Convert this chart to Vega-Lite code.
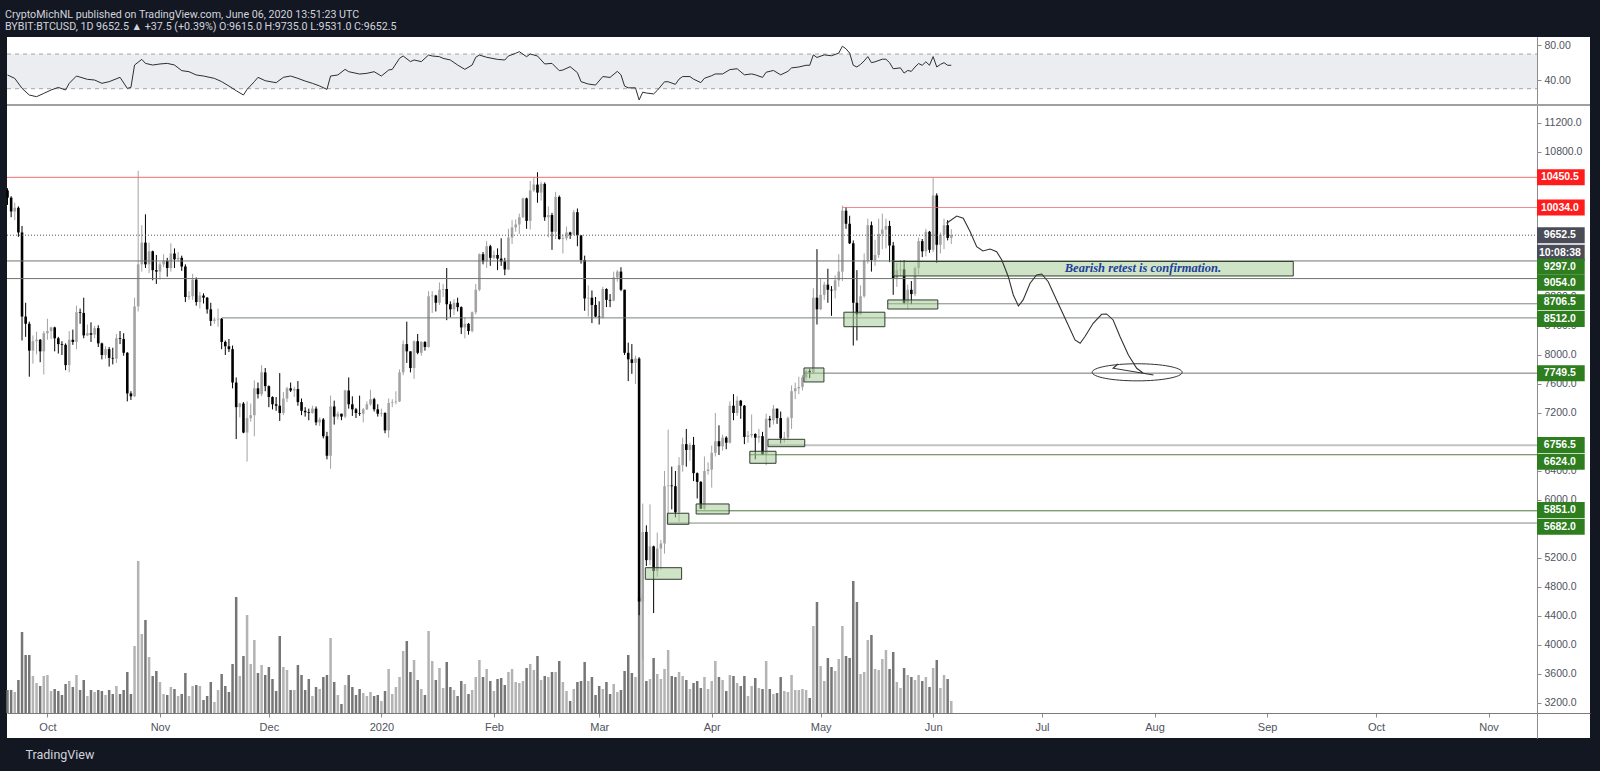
{
"$schema":"https://vega.github.io/schema/vega-lite/v6.json",
"autosize":{"type":"none"},
"background":"#131722",
"padding":{"left":7,"right":10,"top":37,"bottom":33},
"width":1583,"height":701,
"title":{"text":"CryptoMichNL published on TradingView.com, June 06, 2020 13:51:23 UTC","subtitle":"BYBIT:BTCUSD, 1D  9652.5 ▲ +37.5 (+0.39%) O:9615.0 H:9735.0 L:9531.0 C:9652.5","anchor":"start","frame":"group","dx":-2,"color":"#d1d4dc","subtitleColor":"#d1d4dc","font":"Roboto","subtitleFont":"Roboto","fontSize":10.7,"subtitleFontSize":10.7,"fontWeight":"normal","subtitleFontWeight":"normal","offset":4,"subtitlePadding":2},
"config":{"view":{"stroke":null,"fill":"#ffffff"},"axis":{"grid":false,"labelFont":"Liberation Sans","labelFontSize":10.5,"labelColor":"#50535e","domainColor":"#8c8c8c","tickColor":"#8c8c8c","labelOverlap":false,"labelFlush":false}},
"datasets":{
"candles":[
{"d":"2019-09-20","o":10270,"h":10300,"l":10070,"c":10170,"v":23},
{"d":"2019-09-21","o":10170,"h":10190,"l":9900,"c":9980,"v":23},
{"d":"2019-09-22","o":9980,"h":10100,"l":9860,"c":10030,"v":21},
{"d":"2019-09-23","o":10030,"h":10050,"l":9630,"c":9690,"v":33},
{"d":"2019-09-24","o":9690,"h":9780,"l":8200,"c":8530,"v":81},
{"d":"2019-09-25","o":8530,"h":8720,"l":8250,"c":8430,"v":58},
{"d":"2019-09-26","o":8430,"h":8460,"l":7700,"c":8060,"v":58},
{"d":"2019-09-27","o":8060,"h":8270,"l":7880,"c":8190,"v":37},
{"d":"2019-09-28","o":8190,"h":8320,"l":8010,"c":8210,"v":30},
{"d":"2019-09-29","o":8210,"h":8220,"l":7900,"c":8050,"v":27},
{"d":"2019-09-30","o":8050,"h":8330,"l":7730,"c":8300,"v":37},
{"d":"2019-10-01","o":8300,"h":8500,"l":8210,"c":8330,"v":38},
{"d":"2019-10-02","o":8330,"h":8390,"l":8220,"c":8380,"v":22},
{"d":"2019-10-03","o":8380,"h":8390,"l":8050,"c":8230,"v":24},
{"d":"2019-10-04","o":8230,"h":8250,"l":8020,"c":8150,"v":22},
{"d":"2019-10-05","o":8150,"h":8190,"l":8000,"c":8140,"v":18},
{"d":"2019-10-06","o":8140,"h":8160,"l":7790,"c":7860,"v":29},
{"d":"2019-10-07","o":7860,"h":8330,"l":7760,"c":8210,"v":32},
{"d":"2019-10-08","o":8210,"h":8350,"l":8140,"c":8180,"v":26},
{"d":"2019-10-09","o":8180,"h":8680,"l":8080,"c":8590,"v":38},
{"d":"2019-10-10","o":8590,"h":8640,"l":8430,"c":8580,"v":23},
{"d":"2019-10-11","o":8580,"h":8790,"l":8230,"c":8270,"v":33},
{"d":"2019-10-12","o":8270,"h":8420,"l":8260,"c":8300,"v":17},
{"d":"2019-10-13","o":8300,"h":8450,"l":8180,"c":8280,"v":23},
{"d":"2019-10-14","o":8280,"h":8400,"l":8230,"c":8370,"v":21},
{"d":"2019-10-15","o":8370,"h":8410,"l":8110,"c":8160,"v":23},
{"d":"2019-10-16","o":8160,"h":8170,"l":7940,"c":8000,"v":22},
{"d":"2019-10-17","o":8000,"h":8120,"l":7950,"c":8080,"v":18},
{"d":"2019-10-18","o":8080,"h":8110,"l":7840,"c":7960,"v":23},
{"d":"2019-10-19","o":7960,"h":8100,"l":7870,"c":7950,"v":19},
{"d":"2019-10-20","o":7950,"h":8290,"l":7890,"c":8230,"v":27},
{"d":"2019-10-21","o":8230,"h":8330,"l":8150,"c":8220,"v":19},
{"d":"2019-10-22","o":8220,"h":8300,"l":7990,"c":8030,"v":23},
{"d":"2019-10-23","o":8030,"h":8040,"l":7360,"c":7470,"v":41},
{"d":"2019-10-24","o":7470,"h":7500,"l":7380,"c":7430,"v":19},
{"d":"2019-10-25","o":7430,"h":8790,"l":7420,"c":8670,"v":67},
{"d":"2019-10-26","o":8670,"h":10540,"l":8600,"c":9250,"v":152},
{"d":"2019-10-27","o":9250,"h":9790,"l":9150,"c":9550,"v":79},
{"d":"2019-10-28","o":9550,"h":9940,"l":9200,"c":9250,"v":93},
{"d":"2019-10-29","o":9250,"h":9550,"l":9130,"c":9430,"v":56},
{"d":"2019-10-30","o":9430,"h":9440,"l":9030,"c":9170,"v":37},
{"d":"2019-10-31","o":9170,"h":9380,"l":8980,"c":9150,"v":42},
{"d":"2019-11-01","o":9150,"h":9280,"l":9040,"c":9250,"v":31},
{"d":"2019-11-02","o":9250,"h":9390,"l":9210,"c":9300,"v":19},
{"d":"2019-11-03","o":9300,"h":9340,"l":9080,"c":9200,"v":18},
{"d":"2019-11-04","o":9200,"h":9540,"l":9150,"c":9400,"v":26},
{"d":"2019-11-05","o":9400,"h":9470,"l":9200,"c":9320,"v":24},
{"d":"2019-11-06","o":9320,"h":9420,"l":9290,"c":9340,"v":17},
{"d":"2019-11-07","o":9340,"h":9370,"l":9160,"c":9220,"v":19},
{"d":"2019-11-08","o":9220,"h":9250,"l":8730,"c":8800,"v":40},
{"d":"2019-11-09","o":8800,"h":8880,"l":8760,"c":8810,"v":17},
{"d":"2019-11-10","o":8810,"h":9120,"l":8760,"c":9040,"v":27},
{"d":"2019-11-11","o":9040,"h":9070,"l":8680,"c":8730,"v":28},
{"d":"2019-11-12","o":8730,"h":8870,"l":8640,"c":8820,"v":27},
{"d":"2019-11-13","o":8820,"h":8850,"l":8710,"c":8790,"v":13},
{"d":"2019-11-14","o":8790,"h":8800,"l":8570,"c":8630,"v":17},
{"d":"2019-11-15","o":8630,"h":8720,"l":8400,"c":8470,"v":31},
{"d":"2019-11-16","o":8470,"h":8520,"l":8430,"c":8490,"v":11},
{"d":"2019-11-17","o":8490,"h":8640,"l":8390,"c":8500,"v":23},
{"d":"2019-11-18","o":8500,"h":8510,"l":8080,"c":8180,"v":39},
{"d":"2019-11-19","o":8180,"h":8200,"l":8000,"c":8120,"v":27},
{"d":"2019-11-20","o":8120,"h":8220,"l":8040,"c":8080,"v":21},
{"d":"2019-11-21","o":8080,"h":8130,"l":7540,"c":7620,"v":49},
{"d":"2019-11-22","o":7620,"h":7690,"l":6840,"c":7280,"v":116},
{"d":"2019-11-23","o":7280,"h":7340,"l":7140,"c":7330,"v":37},
{"d":"2019-11-24","o":7330,"h":7350,"l":6920,"c":6930,"v":57},
{"d":"2019-11-25","o":6930,"h":7360,"l":6530,"c":7130,"v":98},
{"d":"2019-11-26","o":7130,"h":7330,"l":7080,"c":7170,"v":49},
{"d":"2019-11-27","o":7170,"h":7650,"l":6880,"c":7540,"v":73},
{"d":"2019-11-28","o":7540,"h":7620,"l":7400,"c":7460,"v":40},
{"d":"2019-11-29","o":7460,"h":7860,"l":7430,"c":7760,"v":48},
{"d":"2019-11-30","o":7760,"h":7820,"l":7500,"c":7570,"v":38},
{"d":"2019-12-01","o":7570,"h":7580,"l":7280,"c":7420,"v":46},
{"d":"2019-12-02","o":7420,"h":7430,"l":7250,"c":7320,"v":34},
{"d":"2019-12-03","o":7320,"h":7420,"l":7230,"c":7300,"v":22},
{"d":"2019-12-04","o":7300,"h":7750,"l":7090,"c":7200,"v":77},
{"d":"2019-12-05","o":7200,"h":7490,"l":7170,"c":7400,"v":46},
{"d":"2019-12-06","o":7400,"h":7560,"l":7350,"c":7540,"v":43},
{"d":"2019-12-07","o":7540,"h":7620,"l":7490,"c":7510,"v":23},
{"d":"2019-12-08","o":7510,"h":7560,"l":7420,"c":7530,"v":23},
{"d":"2019-12-09","o":7530,"h":7640,"l":7300,"c":7350,"v":48},
{"d":"2019-12-10","o":7350,"h":7400,"l":7170,"c":7230,"v":38},
{"d":"2019-12-11","o":7230,"h":7280,"l":7150,"c":7210,"v":23},
{"d":"2019-12-12","o":7210,"h":7260,"l":7100,"c":7200,"v":34},
{"d":"2019-12-13","o":7200,"h":7300,"l":7190,"c":7260,"v":17},
{"d":"2019-12-14","o":7260,"h":7290,"l":7030,"c":7070,"v":26},
{"d":"2019-12-15","o":7070,"h":7140,"l":7020,"c":7110,"v":24},
{"d":"2019-12-16","o":7110,"h":7130,"l":6850,"c":6880,"v":36},
{"d":"2019-12-17","o":6880,"h":6940,"l":6560,"c":6610,"v":38},
{"d":"2019-12-18","o":6610,"h":7440,"l":6430,"c":7290,"v":75},
{"d":"2019-12-19","o":7290,"h":7370,"l":7040,"c":7150,"v":31},
{"d":"2019-12-20","o":7150,"h":7220,"l":7110,"c":7190,"v":18},
{"d":"2019-12-21","o":7190,"h":7190,"l":7100,"c":7150,"v":9},
{"d":"2019-12-22","o":7150,"h":7520,"l":7130,"c":7510,"v":28},
{"d":"2019-12-23","o":7510,"h":7690,"l":7260,"c":7320,"v":38},
{"d":"2019-12-24","o":7320,"h":7430,"l":7160,"c":7250,"v":26},
{"d":"2019-12-25","o":7250,"h":7270,"l":7130,"c":7200,"v":18},
{"d":"2019-12-26","o":7200,"h":7440,"l":7160,"c":7190,"v":24},
{"d":"2019-12-27","o":7190,"h":7270,"l":7070,"c":7250,"v":20},
{"d":"2019-12-28","o":7250,"h":7360,"l":7240,"c":7320,"v":17},
{"d":"2019-12-29","o":7320,"h":7520,"l":7300,"c":7390,"v":21},
{"d":"2019-12-30","o":7390,"h":7410,"l":7220,"c":7250,"v":17},
{"d":"2019-12-31","o":7250,"h":7320,"l":7150,"c":7190,"v":18},
{"d":"2020-01-01","o":7190,"h":7260,"l":7150,"c":7200,"v":12},
{"d":"2020-01-02","o":7200,"h":7210,"l":6920,"c":6960,"v":22},
{"d":"2020-01-03","o":6960,"h":7400,"l":6860,"c":7340,"v":44},
{"d":"2020-01-04","o":7340,"h":7390,"l":7280,"c":7350,"v":19},
{"d":"2020-01-05","o":7350,"h":7500,"l":7320,"c":7360,"v":26},
{"d":"2020-01-06","o":7360,"h":7800,"l":7350,"c":7760,"v":36},
{"d":"2020-01-07","o":7760,"h":8200,"l":7720,"c":8150,"v":62},
{"d":"2020-01-08","o":8150,"h":8460,"l":7890,"c":8050,"v":72},
{"d":"2020-01-09","o":8050,"h":8050,"l":7760,"c":7820,"v":41},
{"d":"2020-01-10","o":7820,"h":8200,"l":7670,"c":8190,"v":53},
{"d":"2020-01-11","o":8190,"h":8290,"l":8010,"c":8030,"v":33},
{"d":"2020-01-12","o":8030,"h":8190,"l":7990,"c":8180,"v":24},
{"d":"2020-01-13","o":8180,"h":8190,"l":8060,"c":8110,"v":18},
{"d":"2020-01-14","o":8110,"h":8880,"l":8100,"c":8810,"v":82},
{"d":"2020-01-15","o":8810,"h":8880,"l":8580,"c":8820,"v":52},
{"d":"2020-01-16","o":8820,"h":8830,"l":8600,"c":8720,"v":33},
{"d":"2020-01-17","o":8720,"h":9000,"l":8690,"c":8900,"v":45},
{"d":"2020-01-18","o":8900,"h":8980,"l":8800,"c":8910,"v":25},
{"d":"2020-01-19","o":8910,"h":9200,"l":8480,"c":8700,"v":51},
{"d":"2020-01-20","o":8700,"h":8740,"l":8520,"c":8630,"v":26},
{"d":"2020-01-21","o":8630,"h":8770,"l":8550,"c":8720,"v":23},
{"d":"2020-01-22","o":8720,"h":8790,"l":8600,"c":8660,"v":17},
{"d":"2020-01-23","o":8660,"h":8670,"l":8290,"c":8380,"v":32},
{"d":"2020-01-24","o":8380,"h":8520,"l":8230,"c":8430,"v":29},
{"d":"2020-01-25","o":8430,"h":8440,"l":8280,"c":8330,"v":19},
{"d":"2020-01-26","o":8330,"h":8600,"l":8310,"c":8590,"v":23},
{"d":"2020-01-27","o":8590,"h":8980,"l":8560,"c":8900,"v":36},
{"d":"2020-01-28","o":8900,"h":9400,"l":8880,"c":9390,"v":53},
{"d":"2020-01-29","o":9390,"h":9420,"l":9250,"c":9290,"v":36},
{"d":"2020-01-30","o":9290,"h":9570,"l":9200,"c":9500,"v":44},
{"d":"2020-01-31","o":9500,"h":9520,"l":9230,"c":9340,"v":32},
{"d":"2020-02-01","o":9340,"h":9440,"l":9320,"c":9380,"v":22},
{"d":"2020-02-02","o":9380,"h":9470,"l":9170,"c":9330,"v":34},
{"d":"2020-02-03","o":9330,"h":9610,"l":9230,"c":9290,"v":35},
{"d":"2020-02-04","o":9290,"h":9340,"l":9100,"c":9180,"v":28},
{"d":"2020-02-05","o":9180,"h":9740,"l":9170,"c":9620,"v":41},
{"d":"2020-02-06","o":9620,"h":9860,"l":9530,"c":9760,"v":44},
{"d":"2020-02-07","o":9760,"h":9870,"l":9700,"c":9800,"v":31},
{"d":"2020-02-08","o":9800,"h":9950,"l":9670,"c":9900,"v":30},
{"d":"2020-02-09","o":9900,"h":10170,"l":9890,"c":10160,"v":32},
{"d":"2020-02-10","o":10160,"h":10170,"l":9740,"c":9850,"v":45},
{"d":"2020-02-11","o":9850,"h":10400,"l":9730,"c":10270,"v":49},
{"d":"2020-02-12","o":10270,"h":10450,"l":10250,"c":10350,"v":43},
{"d":"2020-02-13","o":10350,"h":10520,"l":10100,"c":10240,"v":57},
{"d":"2020-02-14","o":10240,"h":10390,"l":10130,"c":10360,"v":33},
{"d":"2020-02-15","o":10360,"h":10380,"l":9850,"c":9900,"v":37},
{"d":"2020-02-16","o":9900,"h":10050,"l":9620,"c":9930,"v":36},
{"d":"2020-02-17","o":9930,"h":9960,"l":9450,"c":9700,"v":41},
{"d":"2020-02-18","o":9700,"h":10250,"l":9600,"c":10180,"v":41},
{"d":"2020-02-19","o":10180,"h":10200,"l":9590,"c":9600,"v":52},
{"d":"2020-02-20","o":9600,"h":9660,"l":9400,"c":9610,"v":31},
{"d":"2020-02-21","o":9610,"h":9770,"l":9580,"c":9690,"v":22},
{"d":"2020-02-22","o":9690,"h":9700,"l":9600,"c":9660,"v":12},
{"d":"2020-02-23","o":9660,"h":10000,"l":9650,"c":9970,"v":24},
{"d":"2020-02-24","o":9970,"h":10020,"l":9500,"c":9650,"v":31},
{"d":"2020-02-25","o":9650,"h":9650,"l":9260,"c":9310,"v":32},
{"d":"2020-02-26","o":9310,"h":9370,"l":8610,"c":8780,"v":51},
{"d":"2020-02-27","o":8780,"h":8960,"l":8530,"c":8790,"v":32},
{"d":"2020-02-28","o":8790,"h":8890,"l":8440,"c":8690,"v":36},
{"d":"2020-02-29","o":8690,"h":8800,"l":8520,"c":8530,"v":18},
{"d":"2020-03-01","o":8530,"h":8740,"l":8420,"c":8520,"v":27},
{"d":"2020-03-02","o":8520,"h":8940,"l":8500,"c":8910,"v":24},
{"d":"2020-03-03","o":8910,"h":8920,"l":8660,"c":8760,"v":31},
{"d":"2020-03-04","o":8760,"h":8840,"l":8660,"c":8750,"v":19},
{"d":"2020-03-05","o":8750,"h":9150,"l":8740,"c":9070,"v":29},
{"d":"2020-03-06","o":9070,"h":9170,"l":9010,"c":9150,"v":21},
{"d":"2020-03-07","o":9150,"h":9210,"l":8880,"c":8900,"v":23},
{"d":"2020-03-08","o":8900,"h":8900,"l":8000,"c":8030,"v":42},
{"d":"2020-03-09","o":8030,"h":8170,"l":7640,"c":7940,"v":58},
{"d":"2020-03-10","o":7940,"h":8150,"l":7740,"c":7890,"v":40},
{"d":"2020-03-11","o":7890,"h":7990,"l":7600,"c":7950,"v":36},
{"d":"2020-03-12","o":7950,"h":7970,"l":4410,"c":4600,"v":115},
{"d":"2020-03-13","o":4600,"h":5950,"l":3800,"c":5560,"v":118},
{"d":"2020-03-14","o":5560,"h":5650,"l":5090,"c":5170,"v":32},
{"d":"2020-03-15","o":5170,"h":5940,"l":5100,"c":5360,"v":34},
{"d":"2020-03-16","o":5360,"h":5370,"l":4440,"c":5020,"v":55},
{"d":"2020-03-17","o":5020,"h":5550,"l":4940,"c":5330,"v":39},
{"d":"2020-03-18","o":5330,"h":5450,"l":5040,"c":5400,"v":34},
{"d":"2020-03-19","o":5400,"h":6400,"l":5260,"c":6190,"v":44},
{"d":"2020-03-20","o":6190,"h":6970,"l":5690,"c":6200,"v":63},
{"d":"2020-03-21","o":6200,"h":6460,"l":5870,"c":6190,"v":37},
{"d":"2020-03-22","o":6190,"h":6400,"l":5760,"c":5830,"v":36},
{"d":"2020-03-23","o":5830,"h":6590,"l":5700,"c":6480,"v":41},
{"d":"2020-03-24","o":6480,"h":6860,"l":6390,"c":6770,"v":37},
{"d":"2020-03-25","o":6770,"h":6980,"l":6460,"c":6690,"v":33},
{"d":"2020-03-26","o":6690,"h":6790,"l":6540,"c":6760,"v":24},
{"d":"2020-03-27","o":6760,"h":6870,"l":6260,"c":6370,"v":30},
{"d":"2020-03-28","o":6370,"h":6380,"l":6020,"c":6250,"v":32},
{"d":"2020-03-29","o":6250,"h":6260,"l":5880,"c":5880,"v":25},
{"d":"2020-03-30","o":5880,"h":6600,"l":5860,"c":6400,"v":36},
{"d":"2020-03-31","o":6400,"h":6520,"l":6350,"c":6420,"v":24},
{"d":"2020-04-01","o":6420,"h":6750,"l":6170,"c":6650,"v":32},
{"d":"2020-04-02","o":6650,"h":7200,"l":6600,"c":6810,"v":52},
{"d":"2020-04-03","o":6810,"h":7030,"l":6620,"c":6740,"v":36},
{"d":"2020-04-04","o":6740,"h":6900,"l":6680,"c":6860,"v":33},
{"d":"2020-04-05","o":6860,"h":6880,"l":6700,"c":6790,"v":22},
{"d":"2020-04-06","o":6790,"h":7360,"l":6780,"c":7300,"v":38},
{"d":"2020-04-07","o":7300,"h":7460,"l":7100,"c":7200,"v":37},
{"d":"2020-04-08","o":7200,"h":7430,"l":7160,"c":7370,"v":30},
{"d":"2020-04-09","o":7370,"h":7380,"l":7120,"c":7300,"v":27},
{"d":"2020-04-10","o":7300,"h":7310,"l":6770,"c":6870,"v":37},
{"d":"2020-04-11","o":6870,"h":6950,"l":6790,"c":6890,"v":17},
{"d":"2020-04-12","o":6890,"h":7180,"l":6860,"c":6910,"v":27},
{"d":"2020-04-13","o":6910,"h":6920,"l":6560,"c":6860,"v":35},
{"d":"2020-04-14","o":6860,"h":6980,"l":6790,"c":6880,"v":25},
{"d":"2020-04-15","o":6880,"h":6940,"l":6620,"c":6630,"v":24},
{"d":"2020-04-16","o":6630,"h":7190,"l":6480,"c":7120,"v":52},
{"d":"2020-04-17","o":7120,"h":7160,"l":7000,"c":7100,"v":24},
{"d":"2020-04-18","o":7100,"h":7310,"l":7040,"c":7260,"v":19},
{"d":"2020-04-19","o":7260,"h":7260,"l":7050,"c":7130,"v":20},
{"d":"2020-04-20","o":7130,"h":7220,"l":6780,"c":6850,"v":36},
{"d":"2020-04-21","o":6850,"h":6940,"l":6790,"c":6860,"v":22},
{"d":"2020-04-22","o":6860,"h":7150,"l":6840,"c":7130,"v":21},
{"d":"2020-04-23","o":7130,"h":7580,"l":6980,"c":7500,"v":38},
{"d":"2020-04-24","o":7500,"h":7620,"l":7390,"c":7540,"v":23},
{"d":"2020-04-25","o":7540,"h":7700,"l":7460,"c":7560,"v":23},
{"d":"2020-04-26","o":7560,"h":7720,"l":7510,"c":7690,"v":24},
{"d":"2020-04-27","o":7690,"h":7800,"l":7650,"c":7780,"v":23},
{"d":"2020-04-28","o":7780,"h":7810,"l":7680,"c":7760,"v":15},
{"d":"2020-04-29","o":7760,"h":8920,"l":7740,"c":8790,"v":87},
{"d":"2020-04-30","o":8790,"h":9460,"l":8420,"c":8630,"v":111},
{"d":"2020-05-01","o":8630,"h":9060,"l":8620,"c":8830,"v":47},
{"d":"2020-05-02","o":8830,"h":9010,"l":8760,"c":8970,"v":32},
{"d":"2020-05-03","o":8970,"h":9190,"l":8720,"c":8900,"v":55},
{"d":"2020-05-04","o":8900,"h":8950,"l":8540,"c":8890,"v":46},
{"d":"2020-05-05","o":8890,"h":9100,"l":8780,"c":9030,"v":42},
{"d":"2020-05-06","o":9030,"h":9390,"l":8940,"c":9150,"v":54},
{"d":"2020-05-07","o":9150,"h":10060,"l":9020,"c":9990,"v":87},
{"d":"2020-05-08","o":9990,"h":10040,"l":9740,"c":9810,"v":57},
{"d":"2020-05-09","o":9810,"h":9920,"l":9530,"c":9540,"v":55},
{"d":"2020-05-10","o":9540,"h":9580,"l":8130,"c":8720,"v":132},
{"d":"2020-05-11","o":8720,"h":9170,"l":8200,"c":8560,"v":111},
{"d":"2020-05-12","o":8560,"h":8960,"l":8550,"c":8810,"v":39},
{"d":"2020-05-13","o":8810,"h":9400,"l":8790,"c":9300,"v":41},
{"d":"2020-05-14","o":9300,"h":9880,"l":9260,"c":9790,"v":73},
{"d":"2020-05-15","o":9790,"h":9840,"l":9150,"c":9310,"v":78},
{"d":"2020-05-16","o":9310,"h":9590,"l":9230,"c":9380,"v":44},
{"d":"2020-05-17","o":9380,"h":9880,"l":9340,"c":9670,"v":43},
{"d":"2020-05-18","o":9670,"h":9950,"l":9460,"c":9730,"v":54},
{"d":"2020-05-19","o":9730,"h":9880,"l":9470,"c":9780,"v":63},
{"d":"2020-05-20","o":9780,"h":9850,"l":9280,"c":9510,"v":44},
{"d":"2020-05-21","o":9510,"h":9560,"l":8830,"c":9060,"v":61},
{"d":"2020-05-22","o":9060,"h":9270,"l":8940,"c":9170,"v":31},
{"d":"2020-05-23","o":9170,"h":9310,"l":9090,"c":9180,"v":25},
{"d":"2020-05-24","o":9180,"h":9310,"l":8700,"c":8720,"v":45},
{"d":"2020-05-25","o":8720,"h":8970,"l":8630,"c":8900,"v":38},
{"d":"2020-05-26","o":8900,"h":9020,"l":8700,"c":8840,"v":36},
{"d":"2020-05-27","o":8840,"h":9220,"l":8810,"c":9200,"v":33},
{"d":"2020-05-28","o":9200,"h":9620,"l":9110,"c":9570,"v":38},
{"d":"2020-05-29","o":9570,"h":9600,"l":9350,"c":9430,"v":32},
{"d":"2020-05-30","o":9430,"h":9740,"l":9360,"c":9700,"v":36},
{"d":"2020-05-31","o":9700,"h":9710,"l":9410,"c":9450,"v":26},
{"d":"2020-06-01","o":9450,"h":10440,"l":9420,"c":10200,"v":45},
{"d":"2020-06-02","o":10200,"h":10230,"l":9270,"c":9520,"v":53},
{"d":"2020-06-03","o":9520,"h":9690,"l":9400,"c":9660,"v":25},
{"d":"2020-06-04","o":9660,"h":9880,"l":9460,"c":9790,"v":38},
{"d":"2020-06-05","o":9790,"h":9860,"l":9580,"c":9615,"v":34},
{"d":"2020-06-06","o":9615,"h":9735,"l":9531,"c":9652.5,"v":12}
],
"rsi":[
{"d":"2019-09-20","r":45.8},{"d":"2019-09-22","r":41.9},{"d":"2019-09-24","r":30.4},{"d":"2019-09-26","r":22.7},{"d":"2019-09-28","r":20.8},{"d":"2019-09-30","r":24.6},
{"d":"2019-10-02","r":28.5},{"d":"2019-10-04","r":31.5},{"d":"2019-10-06","r":28.5},{"d":"2019-10-07","r":36.2},{"d":"2019-10-09","r":44.6},{"d":"2019-10-12","r":40.8},{"d":"2019-10-14","r":40},{"d":"2019-10-16","r":36.2},{"d":"2019-10-18","r":38.1},{"d":"2019-10-21","r":43.1},{"d":"2019-10-23","r":30.4},{"d":"2019-10-24","r":31.5},{"d":"2019-10-25","r":57.3},{"d":"2019-10-27","r":63.8},{"d":"2019-10-28","r":59.2},{"d":"2019-10-30","r":57.3},
{"d":"2019-11-01","r":58.5},{"d":"2019-11-03","r":59.2},{"d":"2019-11-05","r":57.3},{"d":"2019-11-07","r":50.8},{"d":"2019-11-09","r":49.6},{"d":"2019-11-11","r":45.8},{"d":"2019-11-13","r":44.6},{"d":"2019-11-16","r":41.9},{"d":"2019-11-18","r":38.1},{"d":"2019-11-20","r":33.1},{"d":"2019-11-22","r":27.7},{"d":"2019-11-24","r":22.7},{"d":"2019-11-25","r":29.2},{"d":"2019-11-27","r":38.1},{"d":"2019-11-28","r":43.1},{"d":"2019-11-30","r":39.2},
{"d":"2019-12-03","r":36.9},{"d":"2019-12-05","r":43.1},{"d":"2019-12-07","r":44.6},{"d":"2019-12-09","r":41.9},{"d":"2019-12-11","r":38.8},{"d":"2019-12-13","r":36.2},{"d":"2019-12-15","r":33.1},{"d":"2019-12-17","r":29.2},{"d":"2019-12-18","r":44.6},{"d":"2019-12-20","r":45.8},{"d":"2019-12-22","r":52.3},{"d":"2019-12-23","r":49.6},{"d":"2019-12-26","r":46.9},{"d":"2019-12-28","r":47.7},{"d":"2019-12-30","r":49.6},
{"d":"2020-01-01","r":44.6},{"d":"2020-01-03","r":51.5},{"d":"2020-01-04","r":52.3},{"d":"2020-01-06","r":65},{"d":"2020-01-07","r":67.7},{"d":"2020-01-09","r":61.2},{"d":"2020-01-10","r":63.1},{"d":"2020-01-12","r":61.2},{"d":"2020-01-14","r":68.8},{"d":"2020-01-15","r":67.7},{"d":"2020-01-17","r":66.9},{"d":"2020-01-18","r":65},{"d":"2020-01-20","r":63.1},{"d":"2020-01-22","r":57.3},{"d":"2020-01-24","r":52.3},{"d":"2020-01-26","r":57.3},{"d":"2020-01-27","r":66.2},{"d":"2020-01-28","r":68.8},{"d":"2020-01-30","r":66.2},
{"d":"2020-02-02","r":63.8},{"d":"2020-02-04","r":63.1},{"d":"2020-02-05","r":67.7},{"d":"2020-02-07","r":70.8},{"d":"2020-02-08","r":72.7},{"d":"2020-02-10","r":66.9},{"d":"2020-02-11","r":70},{"d":"2020-02-13","r":67.7},{"d":"2020-02-15","r":58.5},{"d":"2020-02-17","r":59.2},{"d":"2020-02-19","r":50.8},{"d":"2020-02-20","r":51.5},{"d":"2020-02-22","r":55.4},{"d":"2020-02-24","r":48.5},{"d":"2020-02-25","r":38.1},{"d":"2020-02-27","r":35.4},{"d":"2020-02-29","r":34.2},
{"d":"2020-03-02","r":44},{"d":"2020-03-04","r":43},{"d":"2020-03-06","r":50},{"d":"2020-03-07","r":46},{"d":"2020-03-08","r":33},{"d":"2020-03-09","r":31},{"d":"2020-03-11","r":31},{"d":"2020-03-12","r":17},{"d":"2020-03-13","r":26},{"d":"2020-03-14","r":25},{"d":"2020-03-16","r":24},{"d":"2020-03-17","r":28},{"d":"2020-03-19","r":38},{"d":"2020-03-20","r":38},{"d":"2020-03-22","r":35},{"d":"2020-03-23","r":41},{"d":"2020-03-24","r":44},{"d":"2020-03-26","r":44},{"d":"2020-03-27","r":41},{"d":"2020-03-29","r":37},{"d":"2020-03-30","r":42},
{"d":"2020-04-01","r":45},{"d":"2020-04-02","r":47},{"d":"2020-04-04","r":47},{"d":"2020-04-06","r":52},{"d":"2020-04-08","r":53},{"d":"2020-04-10","r":46},{"d":"2020-04-12","r":47},{"d":"2020-04-13","r":46},{"d":"2020-04-15","r":43},{"d":"2020-04-16","r":49},{"d":"2020-04-18","r":51},{"d":"2020-04-20","r":46},{"d":"2020-04-22","r":50},{"d":"2020-04-23","r":54},{"d":"2020-04-25","r":55},{"d":"2020-04-27","r":57},{"d":"2020-04-28","r":57},{"d":"2020-04-29","r":69},{"d":"2020-04-30","r":66},
{"d":"2020-05-02","r":69},{"d":"2020-05-04","r":68},{"d":"2020-05-06","r":71},{"d":"2020-05-07","r":79},{"d":"2020-05-08","r":76},{"d":"2020-05-09","r":71},{"d":"2020-05-10","r":57},{"d":"2020-05-11","r":55},{"d":"2020-05-12","r":58},{"d":"2020-05-13","r":62},{"d":"2020-05-14","r":67},{"d":"2020-05-15","r":60},{"d":"2020-05-16","r":61},{"d":"2020-05-18","r":64},{"d":"2020-05-19","r":64},{"d":"2020-05-20","r":60},{"d":"2020-05-21","r":53},{"d":"2020-05-23","r":54},{"d":"2020-05-24","r":48},{"d":"2020-05-25","r":51},{"d":"2020-05-26","r":50},{"d":"2020-05-27","r":55},{"d":"2020-05-28","r":59},{"d":"2020-05-29","r":57},{"d":"2020-05-30","r":61},{"d":"2020-05-31","r":57},
{"d":"2020-06-01","r":67},{"d":"2020-06-02","r":55},{"d":"2020-06-03","r":58},{"d":"2020-06-04","r":60},{"d":"2020-06-05","r":57},{"d":"2020-06-06","r":57}
],
"levels":[
{"p":10450.5,"s":"2019-09-19T20:40:00Z","k":"red"},
{"p":10034,"s":"2020-05-07T02:00:00Z","k":"red"},
{"p":9652.5,"s":"2019-09-19T20:40:00Z","k":"cur"},
{"p":9297,"s":"2019-09-19T20:40:00Z","k":"gray"},
{"p":9054,"s":"2019-09-19T20:40:00Z","k":"gray"},
{"p":8706.5,"s":"2020-05-19T12:00:00Z","k":"gray"},
{"p":8512,"s":"2019-11-18T01:00:00Z","k":"gray"},
{"p":7749.5,"s":"2020-04-26T10:00:00Z","k":"gray"},
{"p":6756.5,"s":"2020-04-16T12:00:00Z","k":"light"},
{"p":6624,"s":"2020-04-11T12:00:00Z","k":"green"},
{"p":5851,"s":"2020-03-27T17:00:00Z","k":"green"},
{"p":5682,"s":"2020-03-19T19:00:00Z","k":"gray"}
],
"zones":[
{"s":"2020-05-21T00:00:00Z","e":"2020-09-08T05:00:00Z","lo":9090,"hi":9290},
{"s":"2020-05-07T10:00:00Z","e":"2020-05-18T17:00:00Z","lo":8390,"hi":8590},
{"s":"2020-05-19T12:00:00Z","e":"2020-06-02T07:00:00Z","lo":8634,"hi":8759},
{"s":"2020-04-26T10:00:00Z","e":"2020-05-01T22:00:00Z","lo":7628,"hi":7821},
{"s":"2020-04-16T12:00:00Z","e":"2020-04-26T15:00:00Z","lo":6735,"hi":6837},
{"s":"2020-04-11T12:00:00Z","e":"2020-04-18T17:00:00Z","lo":6506,"hi":6672},
{"s":"2020-03-27T17:00:00Z","e":"2020-04-05T19:00:00Z","lo":5807,"hi":5945},
{"s":"2020-03-19T19:00:00Z","e":"2020-03-25T17:00:00Z","lo":5665,"hi":5817},
{"s":"2020-03-13T17:00:00Z","e":"2020-03-23T17:00:00Z","lo":4906,"hi":5066}
],
"path":[
{"i":0,"d":"2020-06-04T17:00:00Z","p":9817},{"i":1,"d":"2020-06-07T12:00:00Z","p":9917},{"i":2,"d":"2020-06-09T07:00:00Z","p":9886},{"i":3,"d":"2020-06-11T05:00:00Z","p":9701},{"i":4,"d":"2020-06-13T00:00:00Z","p":9494},{"i":5,"d":"2020-06-14T17:00:00Z","p":9434},{"i":6,"d":"2020-06-16T17:00:00Z","p":9462},{"i":7,"d":"2020-06-18T12:00:00Z","p":9425},{"i":8,"d":"2020-06-19T22:00:00Z","p":9310},{"i":9,"d":"2020-06-21T17:00:00Z","p":9080},{"i":10,"d":"2020-06-23T02:00:00Z","p":8828},{"i":11,"d":"2020-06-24T12:00:00Z","p":8676},{"i":12,"d":"2020-06-25T19:00:00Z","p":8759},{"i":13,"d":"2020-06-27T17:00:00Z","p":8989},{"i":14,"d":"2020-06-29T12:00:00Z","p":9103},{"i":15,"d":"2020-06-30T22:00:00Z","p":9117},{"i":16,"d":"2020-07-02T17:00:00Z","p":9011},{"i":17,"d":"2020-07-05T00:00:00Z","p":8759},{"i":18,"d":"2020-07-07T19:00:00Z","p":8459},{"i":19,"d":"2020-07-10T02:00:00Z","p":8207},{"i":20,"d":"2020-07-11T12:00:00Z","p":8161},{"i":21,"d":"2020-07-12T19:00:00Z","p":8252},{"i":22,"d":"2020-07-15T02:00:00Z","p":8437},{"i":23,"d":"2020-07-17T10:00:00Z","p":8561},{"i":24,"d":"2020-07-18T19:00:00Z","p":8566},{"i":25,"d":"2020-07-20T14:00:00Z","p":8483},{"i":26,"d":"2020-07-22T12:00:00Z","p":8252},{"i":27,"d":"2020-07-24T19:00:00Z","p":8000},{"i":28,"d":"2020-07-27T02:00:00Z","p":7817},{"i":29,"d":"2020-07-28T22:00:00Z","p":7748},{"i":30,"d":"2020-07-31T17:00:00Z","p":7724},{"i":31,"d":"2020-07-20T14:00:00Z","p":7817},{"i":32,"d":"2020-07-21T22:00:00Z","p":7876}
],
"tags":[
{"at":10450.5,"t":"10450.5","k":"red"},
{"at":10034,"t":"10034.0","k":"red"},
{"at":9652.5,"t":"9652.5","k":"cur"},
{"at":9411,"t":"10:08:38","k":"cur"},
{"at":9218,"t":"9297.0","k":"green"},
{"at":8997,"t":"9054.0","k":"green"},
{"at":8727,"t":"8706.5","k":"green"},
{"at":8497,"t":"8512.0","k":"green"},
{"at":7747,"t":"7749.5","k":"green"},
{"at":6759,"t":"6756.5","k":"green"},
{"at":6528,"t":"6624.0","k":"green"},
{"at":5862,"t":"5851.0","k":"green"},
{"at":5632,"t":"5682.0","k":"green"}
]
},
"resolve":{"scale":{"y":"independent"}},
"layer":[
{"layer":[
 {"data":{"values":[{"s":"2019-09-19T20:40:00Z","a":30,"b":70}]},
  "mark":{"type":"rect","color":"#ebedf0"},
  "encoding":{
   "x":{"field":"s","type":"temporal","scale":{"type":"utc","nice":false,"padding":0,"domain":[{"year":2019,"month":9,"date":19,"hours":20,"minutes":40,"utc":true},{"year":2020,"month":11,"date":28,"hours":23,"utc":true}]}},
   "x2":{"datum":{"year":2020,"month":11,"date":14,"hours":8,"minutes":30,"utc":true}},
   "y":{"field":"a","type":"quantitative","scale":{"domain":[-718.6,89.6],"nice":false,"zero":false,"padding":0},"axis":{"orient":"right","offset":-53,"values":[40,80],"format":".2f","title":null,"tickSize":4,"labelPadding":3}},
   "y2":{"field":"b"}}},
 {"data":{"values":[{"s":"2019-09-19T20:40:00Z","lv":70},{"s":"2019-09-19T20:40:00Z","lv":30}]},
  "mark":{"type":"rule","color":"#a3a6ae","strokeDash":[4,4],"strokeWidth":1},
  "encoding":{"x":{"field":"s","type":"temporal"},"x2":{"datum":{"year":2020,"month":11,"date":14,"hours":8,"minutes":30,"utc":true}},"y":{"field":"lv","type":"quantitative"}}},
 {"data":{"name":"rsi"},
  "mark":{"type":"line","color":"#2e2e2e","strokeWidth":1},
  "encoding":{"x":{"field":"d","type":"temporal"},"y":{"field":"r","type":"quantitative"}}}
]},
{"data":{"name":"candles"},
 "mark":{"type":"bar","size":2.5},
 "encoding":{
  "x":{"field":"d","type":"temporal",
   "axis":{"orient":"bottom","offset":-25,"values":[{"year":2019,"month":10,"date":1,"utc":true},{"year":2019,"month":11,"date":1,"utc":true},{"year":2019,"month":12,"date":1,"utc":true},{"year":2020,"month":1,"date":1,"utc":true},{"year":2020,"month":2,"date":1,"utc":true},{"year":2020,"month":3,"date":1,"utc":true},{"year":2020,"month":4,"date":1,"utc":true},{"year":2020,"month":5,"date":1,"utc":true},{"year":2020,"month":6,"date":1,"utc":true},{"year":2020,"month":7,"date":1,"utc":true},{"year":2020,"month":8,"date":1,"utc":true},{"year":2020,"month":9,"date":1,"utc":true},{"year":2020,"month":10,"date":1,"utc":true},{"year":2020,"month":11,"date":1,"utc":true}],
    "labelExpr":"utcFormat(datum.value, '%m') == '01' ? utcFormat(datum.value, '%Y') : utcFormat(datum.value, '%b')",
    "labelFontSize":11,"tickSize":4,"labelPadding":4,"domainColor":"#7a7a7a",
    "title":"TradingView","titleFont":"Roboto","titleFontSize":12.5,"titleFontWeight":"normal","titleColor":"#d1d4dc","titleAlign":"left","titleBaseline":"top","titleX":18,"titleY":35}},
  "y":{"field":"v","type":"quantitative","scale":{"domain":[-25,676],"nice":false,"zero":false,"padding":0},"axis":null},
  "y2":{"datum":0},
  "color":{"condition":{"test":"datum.c >= datum.o","value":"#b3b3b3"},"value":"#767676"}}},
{"layer":[
 {"data":{"values":[{"b":11448}]},
  "mark":{"type":"rule","color":"#a0a0a0","strokeWidth":2},
  "encoding":{"y":{"field":"b","type":"quantitative","scale":{"domain":[2717,12385.9],"nice":false,"zero":false,"padding":0},
    "axis":{"orient":"right","offset":-53,"values":[3200,3600,4000,4400,4800,5200,6000,6400,7200,7600,8000,8400,8800,10800,11200],"format":".1f","title":null,"tickSize":4,"labelPadding":3}}}},
 {"data":{"name":"candles"},
  "mark":{"type":"rule","strokeWidth":1},
  "encoding":{
   "x":{"field":"d","type":"temporal"},
   "y":{"field":"l","type":"quantitative"},
   "y2":{"field":"h"},
   "color":{"condition":{"test":"datum.c >= datum.o","value":"#a3a3a3"},"value":"#000000"}}},
 {"data":{"name":"candles"},
  "mark":{"type":"bar","size":2.6},
  "encoding":{
   "x":{"field":"d","type":"temporal"},
   "y":{"field":"o","type":"quantitative"},
   "y2":{"field":"c"},
   "color":{"condition":{"test":"datum.c >= datum.o","value":"#a3a3a3"},"value":"#000000"}}},
 {"data":{"name":"levels"},
  "mark":{"type":"rule"},
  "encoding":{
   "x":{"field":"s","type":"temporal"},
   "x2":{"datum":{"year":2020,"month":11,"date":14,"hours":8,"minutes":30,"utc":true}},
   "y":{"field":"p","type":"quantitative"},
   "color":{"condition":[{"test":"datum.k === 'red'","value":"#f26b74"},{"test":"datum.k === 'cur'","value":"#555555"},{"test":"datum.k === 'light'","value":"#c2c2c2"},{"test":"datum.k === 'green'","value":"#3f6e36"}],"value":"#6d786d"},
   "strokeWidth":{"condition":{"test":"datum.k === 'light'","value":2},"value":1},
   "strokeDash":{"condition":{"test":"datum.k === 'cur'","value":[1,2]},"value":[1,0]}}},
 {"data":{"name":"zones"},
  "mark":{"type":"rect","fill":"#9fc78f","fillOpacity":0.5,"stroke":"#2f3d2f","strokeWidth":1},
  "encoding":{
   "x":{"field":"s","type":"temporal"},"x2":{"field":"e"},
   "y":{"field":"lo","type":"quantitative"},"y2":{"field":"hi"}}},
 {"data":{"name":"path"},
  "mark":{"type":"line","color":"#333333","strokeWidth":1.1},
  "encoding":{
   "x":{"field":"d","type":"temporal"},
   "y":{"field":"p","type":"quantitative"},
   "order":{"field":"i","type":"quantitative"}}},
 {"data":{"values":[{"d":"2020-07-27T05:00:00Z","p":7761}]},
  "mark":{"type":"point","shape":"M -1 0 A 1 0.19 0 1 1 1 0 A 1 0.19 0 1 1 -1 0 Z","size":8100,"filled":false,"stroke":"#333333","strokeWidth":1,"opacity":1},
  "encoding":{"x":{"field":"d","type":"temporal"},"y":{"field":"p","type":"quantitative"}}},
 {"data":{"values":[{"d":"2020-07-28T19:00:00Z","p":9200,"t":"Bearish retest is confirmation."}]},
  "mark":{"type":"text","font":"Liberation Serif","fontSize":12.5,"fontStyle":"italic","fontWeight":"bold","color":"#21409a","align":"center","baseline":"middle"},
  "encoding":{"x":{"field":"d","type":"temporal"},"y":{"field":"p","type":"quantitative"},"text":{"field":"t"}}},
 {"data":{"name":"tags"},
  "mark":{"type":"bar","size":16},
  "encoding":{
   "x":{"datum":{"year":2020,"month":11,"date":14,"hours":8,"minutes":30,"utc":true},"type":"temporal"},
   "x2":{"datum":{"year":2020,"month":11,"date":27,"hours":12,"utc":true}},
   "y":{"field":"at","type":"quantitative"},
   "color":{"condition":[{"test":"datum.k === 'red'","value":"#ff1c1c"},{"test":"datum.k === 'cur'","value":"#4a4d57"}],"value":"#2e7d1f"}}},
 {"data":{"name":"tags"},
  "mark":{"type":"text","font":"Liberation Sans","fontSize":10.5,"fontWeight":"bold","color":"#ffffff","align":"center","baseline":"middle"},
  "encoding":{
   "x":{"datum":{"year":2020,"month":11,"date":20,"hours":16,"utc":true},"type":"temporal"},
   "y":{"field":"at","type":"quantitative"},
   "text":{"field":"t"}}}
]}
]
}
